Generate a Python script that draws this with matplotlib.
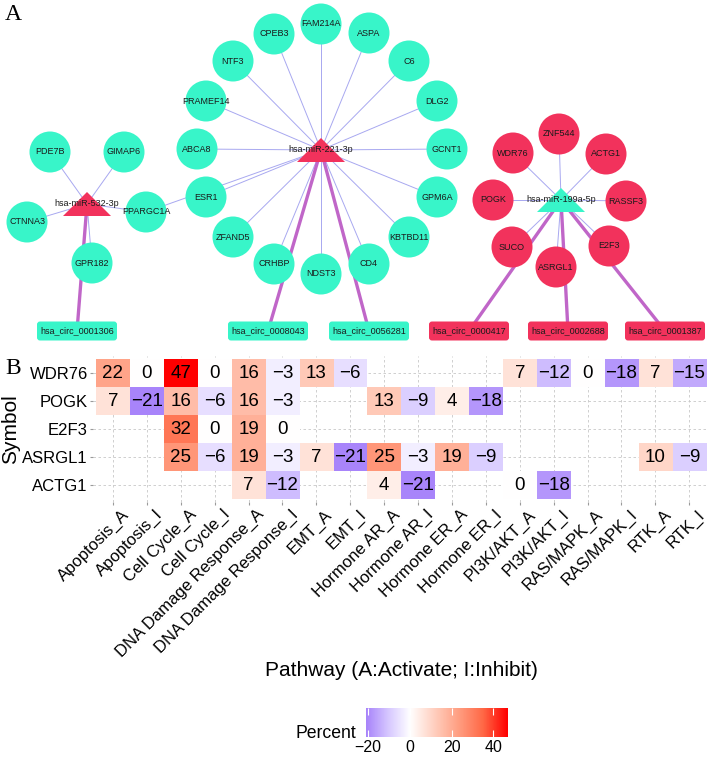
import numpy as np
import matplotlib.pyplot as plt
from matplotlib.patches import Circle, Polygon, FancyBboxPatch
from matplotlib.colors import LinearSegmentedColormap, Normalize
import matplotlib.transforms as mtransforms

plt.rcParams['font.family'] = ['Liberation Sans', 'DejaVu Sans']

W, H = 708, 758
nan = np.nan

# ---------------- panel A: network data ----------------
mirnas = ['hsa-miR-532-3p', 'hsa-miR-221-3p', 'hsa-miR-199a-5p']
targets_532 = ['PDE7B', 'GIMAP6', 'CTNNA3', 'PPARGC1A', 'GPR182']
targets_221 = ['FAM214A', 'ASPA', 'C6', 'DLG2', 'GCNT1', 'GPM6A', 'KBTBD11', 'CD4',
               'NDST3', 'CRHBP', 'ZFAND5', 'ESR1', 'PPARGC1A', 'ABCA8', 'PRAMEF14',
               'NTF3', 'CPEB3']
targets_199a = ['ZNF544', 'ACTG1', 'RASSF3', 'E2F3', 'ASRGL1', 'SUCO', 'POGK', 'WDR76']
circ_532 = ['hsa_circ_0001306']
circ_221 = ['hsa_circ_0008043', 'hsa_circ_0056281']
circ_199a = ['hsa_circ_0000417', 'hsa_circ_0002688', 'hsa_circ_0001387']
red_nodes = ['hsa-miR-532-3p', 'hsa-miR-221-3p'] + targets_199a + circ_199a

# ---------------- panel B: heatmap data ----------------
genes = ['WDR76', 'POGK', 'E2F3', 'ASRGL1', 'ACTG1']
pathways = ['Apoptosis_A', 'Apoptosis_I', 'Cell Cycle_A', 'Cell Cycle_I',
            'DNA Damage Response_A', 'DNA Damage Response_I', 'EMT_A', 'EMT_I',
            'Hormone AR_A', 'Hormone AR_I', 'Hormone ER_A', 'Hormone ER_I',
            'PI3K/AKT_A', 'PI3K/AKT_I', 'RAS/MAPK_A', 'RAS/MAPK_I', 'RTK_A', 'RTK_I']
wdr76 = [22, 0, 47, 0, 16, -3, 13, -6, nan, nan, nan, nan, 7, -12, 0, -18, 7, -15]
pogk = [7, -21, 16, -6, 16, -3, nan, nan, 13, -9, 4, -18, nan, nan, nan, nan, nan, nan]
e2f3 = [nan, nan, 32, 0, 19, 0, nan, nan, nan, nan, nan, nan, nan, nan, nan, nan, nan, nan]
asrgl1 = [nan, nan, 25, -6, 19, -3, 7, -21, 25, -3, 19, -9, nan, nan, nan, nan, 10, -9]
actg1 = [nan, nan, nan, nan, 7, -12, nan, nan, 4, -21, nan, nan, 0, -18, nan, nan, nan, nan]
colorbar_ticks = [-20, 0, 20, 40]

# layout of the network (pixel positions)
pos = {
    'hsa-miR-532-3p': (87, 204), 'hsa-miR-221-3p': (321, 150), 'hsa-miR-199a-5p': (561, 200),
    'PDE7B': (50, 152), 'GIMAP6': (124, 152), 'CTNNA3': (27, 222), 'PPARGC1A': (146, 212),
    'GPR182': (92, 263),
    'FAM214A': (321, 24), 'CPEB3': (274, 34), 'NTF3': (233, 61), 'PRAMEF14': (206, 101),
    'ABCA8': (197, 149), 'ESR1': (206, 197), 'ZFAND5': (233, 237), 'CRHBP': (274, 264),
    'NDST3': (321, 274), 'CD4': (369, 264), 'KBTBD11': (409, 237), 'GPM6A': (437, 197),
    'GCNT1': (447, 149), 'DLG2': (437, 101), 'C6': (409, 61), 'ASPA': (369, 33),
    'ZNF544': (559, 134), 'WDR76': (513, 153), 'ACTG1': (606, 154), 'POGK': (493, 200),
    'RASSF3': (626, 201), 'SUCO': (512, 247), 'ASRGL1': (556, 267), 'E2F3': (609, 246),
    'hsa_circ_0001306': (77, 331), 'hsa_circ_0008043': (268, 331),
    'hsa_circ_0056281': (369, 331), 'hsa_circ_0000417': (469, 331),
    'hsa_circ_0002688': (568, 331), 'hsa_circ_0001387': (665, 331),
}

RED = '#F2325C'
CYAN = '#38F5C9'
THIN = '#a8a8f0'
THICK = '#C066C8'


def frac(x0, y0, x1, y1):
    return [x0 / W, 1 - y1 / H, (x1 - x0) / W, (y1 - y0) / H]


fig = plt.figure(figsize=(W / 100, H / 100), dpi=100)
ax = fig.add_axes([0, 0, 1, 1])
ax.set_xlim(0, W)
ax.set_ylim(H, 0)
ax.axis('off')
ax.patch.set_alpha(0)

# edges
for mir, tg, circs in zip(mirnas, [targets_532, targets_221, targets_199a],
                          [circ_532, circ_221, circ_199a]):
    mx, my = pos[mir]
    for t in tg:
        tx, ty = pos[t]
        ax.plot([mx, tx], [my, ty], color=THIN, lw=0.7, zorder=1)
    for c in circs:
        cx, cy = pos[c]
        ax.plot([mx, cx], [my, cy], color=THICK, lw=2.4, zorder=2,
                solid_capstyle='butt')

# gene nodes (each drawn once)
genes_net = list(dict.fromkeys(targets_532 + targets_221 + targets_199a))
for t in genes_net:
    x, y = pos[t]
    col = RED if t in red_nodes else CYAN
    ax.add_patch(Circle((x, y), 20.5, facecolor=col, edgecolor='none', zorder=4))
    ax.text(x, y, t, ha='center', va='center', fontsize=6.5, color='#1a1a1a', zorder=6)

# miRNA triangles
for m in mirnas:
    x, y = pos[m]
    col = RED if m in red_nodes else CYAN
    ax.add_patch(Polygon([(x - 24, y + 12), (x + 24, y + 12), (x, y - 12)],
                         closed=True, facecolor=col, edgecolor='none', zorder=5))
    ax.text(x, y, m, ha='center', va='center', fontsize=6.5, color='#1a1a1a', zorder=6)

# circRNA boxes
for c in circ_532 + circ_221 + circ_199a:
    x, y = pos[c]
    col = RED if c in red_nodes else CYAN
    ax.add_patch(FancyBboxPatch((x - 38.5, y - 8), 77, 16,
                                boxstyle='round,pad=1.5,rounding_size=3',
                                facecolor=col, edgecolor='none', zorder=4))
    ax.text(x, y, c, ha='center', va='center', fontsize=6.5, color='#1a1a1a', zorder=6)

fig.text(13 / W, 1 - 14 / H, 'A', family='Liberation Serif', fontsize=17,
         ha='center', va='center')
fig.text(13 / W, 1 - 369 / H, 'B', family='Liberation Serif', fontsize=17,
         ha='center', va='center')

# ---------------- panel B heatmap ----------------
vals = np.array([wdr76, pogk, e2f3, asrgl1, actg1], dtype=float)
vmin, vmax = -21, 47
nodes = [(-21, (168, 132, 250)), (-10.5, (214, 199, 255)), (0, (255, 255, 255)),
         (11.75, (255, 207, 191)), (23.5, (255, 158, 129)), (35.25, (255, 104, 70)),
         (47, (255, 0, 0))]
cmap = LinearSegmentedColormap.from_list(
    'pct', [((v - vmin) / (vmax - vmin), tuple(c / 255 for c in rgb)) for v, rgb in nodes])
cmap.set_bad((1, 1, 1, 0))
norm = Normalize(vmin, vmax)

# panel: columns 33.9 px apart starting at x=113, rows 28 px apart starting at y=373
cw, rh = 33.9, 28
left = 113 - 0.6 * cw
top = 373 - 0.6 * rh
axh = fig.add_axes(frac(left, top, left + 18.15 * cw, top + 5.2 * rh))
axh.imshow(np.ma.masked_invalid(vals), cmap=cmap, norm=norm, aspect='auto',
           interpolation='nearest', zorder=1)
axh.set_xlim(-0.6, 17.55)
axh.set_ylim(4.6, -0.6)
for s in axh.spines.values():
    s.set_visible(False)
axh.set_axisbelow(True)
axh.grid(True, color='#c8c8c8', lw=0.6, ls=(0, (3, 3)))
for i in range(len(genes)):
    for j in range(len(pathways)):
        v = vals[i, j]
        if not np.isnan(v):
            s = str(int(v)).replace('-', '\u2212')
            axh.text(j, i, s, ha='center', va='center', fontsize=13.5, color='black', zorder=3)

axh.set_yticks(range(len(genes)))
axh.set_yticklabels(genes, fontsize=12)
axh.set_xticks(range(len(pathways)))
axh.set_xticklabels([])
axh.tick_params(axis='both', length=2.5, color='#9a9a9a', pad=1)
tr = mtransforms.offset_copy(axh.get_xaxis_transform(), fig=fig, x=8, y=-5, units='dots')
for j, p in enumerate(pathways):
    axh.text(j, 0, p, transform=tr, rotation=45, ha='right', va='top',
             rotation_mode='anchor', fontsize=12)

fig.text(11 / W, 1 - 429 / H, 'Symbol', rotation=90, ha='center', va='center', fontsize=15)
fig.text(401 / W, 1 - 671 / H, 'Pathway (A:Activate; I:Inhibit)', ha='center',
         va='center', fontsize=15)

# colorbar
axc = fig.add_axes(frac(366, 708, 508, 737))
grad = np.linspace(vmin, vmax, 300)[None, :]
axc.imshow(grad, cmap=cmap, norm=norm, aspect='auto', extent=(vmin, vmax, 0, 1))
axc.set_xlim(vmin, vmax)
axc.set_yticks([])
axc.set_xticks(colorbar_ticks)
axc.set_xticklabels([str(t).replace('-', '\u2212') for t in colorbar_ticks], fontsize=11.5)
axc.tick_params(axis='x', direction='in', length=5, color='white', width=0.8,
                top=True, pad=2)
for s in axc.spines.values():
    s.set_visible(False)
fig.text(356 / W, 1 - 734 / H, 'Percent', ha='right', va='center', fontsize=12.7)

fig.savefig('out.png', dpi=100, facecolor='white')
